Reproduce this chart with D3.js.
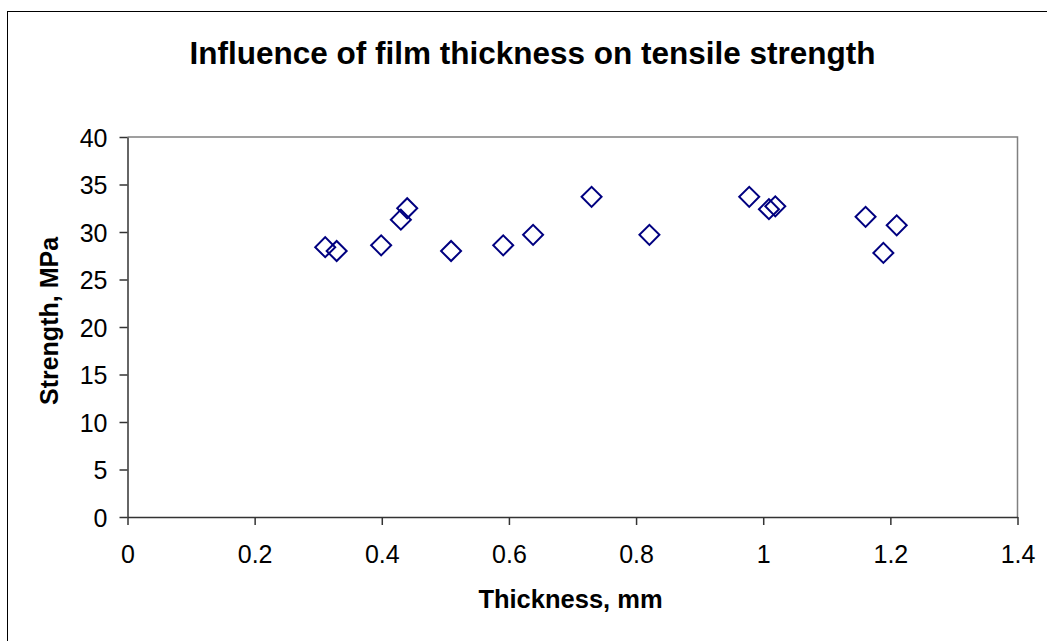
<!DOCTYPE html>
<html>
<head>
<meta charset="utf-8">
<script src="https://cdn.jsdelivr.net/npm/d3@7"></script>
<style>
  html, body { margin: 0; padding: 0; background: #fff; }
  svg { display: block; font-family: "Liberation Sans", Arial, sans-serif; }
</style>
</head>
<body>
<svg id="chart" width="1047" height="641"></svg>
<script>
// Film thickness (mm) and measured tensile strength (MPa)
const thickness = [0.311, 0.329, 0.399, 0.430, 0.440, 0.509, 0.591, 0.638, 0.730, 0.821, 0.978, 1.009, 1.019, 1.161, 1.189, 1.210];
const strength  = [28.4, 28.0, 28.6, 31.3, 32.5, 28.0, 28.6, 29.7, 33.7, 29.7, 33.7, 32.4, 32.7, 31.6, 27.8, 30.7];
const xTicks = [0, 0.2, 0.4, 0.6, 0.8, 1, 1.2, 1.4];
const yTicks = [0, 5, 10, 15, 20, 25, 30, 35, 40];

const titleText = "Influence of film thickness on tensile strength";
const xTitle = "Thickness, mm";
const yTitle = "Strength, MPa";

const svg = d3.select("#chart");
const plot = { left: 127.5, right: 1017.5, top: 137, bottom: 517 };

const x = d3.scaleLinear().domain([0, 1.4]).range([plot.left, plot.right]);
const y = d3.scaleLinear().domain([0, 40]).range([plot.bottom, plot.top]);

// Outer chart frame
svg.append("rect")
  .attr("x", 7.5).attr("y", 11.5)
  .attr("width", 1100).attr("height", 700)
  .attr("fill", "#fff").attr("stroke", "#000").attr("stroke-width", 1);

// Plot area border (top and right sides)
svg.append("path")
  .attr("d", `M${plot.left},${plot.top}H${plot.right}V${plot.bottom}`)
  .attr("fill", "none").attr("stroke", "#808080").attr("stroke-width", 1.5);

// Title
svg.append("text")
  .attr("x", 532.5).attr("y", 63.5)
  .attr("text-anchor", "middle")
  .attr("font-weight", "bold").attr("font-size", 31.5)
  .text(titleText);

// Axes
const xAxis = d3.axisBottom(x).tickValues(xTicks).tickSize(8).tickSizeOuter(0)
  .tickFormat(d => String(d));
const yAxis = d3.axisLeft(y).tickValues(yTicks).tickSize(8).tickSizeOuter(0)
  .tickFormat(d => String(d));

const gx = svg.append("g").attr("transform", `translate(0,${plot.bottom})`).call(xAxis);
const gy = svg.append("g").attr("transform", `translate(${plot.left},0)`).call(yAxis);

[gx, gy].forEach(g => {
  g.select(".domain").attr("stroke", "#333").attr("stroke-width", 1.5);
  g.selectAll(".tick line").attr("stroke", "#333").attr("stroke-width", 1.5);
  g.selectAll(".tick text")
    .attr("font-family", "Liberation Sans, Arial, sans-serif")
    .attr("font-size", 25).attr("fill", "#000");
});
gx.selectAll(".tick text").attr("y", 0).attr("dy", null).attr("transform", "translate(0,46)");
gy.selectAll(".tick text").attr("x", -20).attr("dy", "0.36em");

// Axis titles
svg.append("text")
  .attr("x", 570.5).attr("y", 608)
  .attr("text-anchor", "middle")
  .attr("font-weight", "bold").attr("font-size", 25.5)
  .text(xTitle);

svg.append("text")
  .attr("transform", `translate(58,321) rotate(-90)`)
  .attr("text-anchor", "middle")
  .attr("font-weight", "bold").attr("font-size", 25)
  .text(yTitle);

// Data markers: open diamonds
const diamond = d3.symbol().type(d3.symbolSquare).size(200);
svg.append("g")
  .selectAll("path")
  .data(thickness.map((t, i) => ({ t, s: strength[i] })))
  .join("path")
  .attr("transform", d => `translate(${x(d.t)},${y(d.s)}) rotate(45)`)
  .attr("d", diamond)
  .attr("fill", "none")
  .attr("stroke", "#000080")
  .attr("stroke-width", 2);
</script>
</body>
</html>
